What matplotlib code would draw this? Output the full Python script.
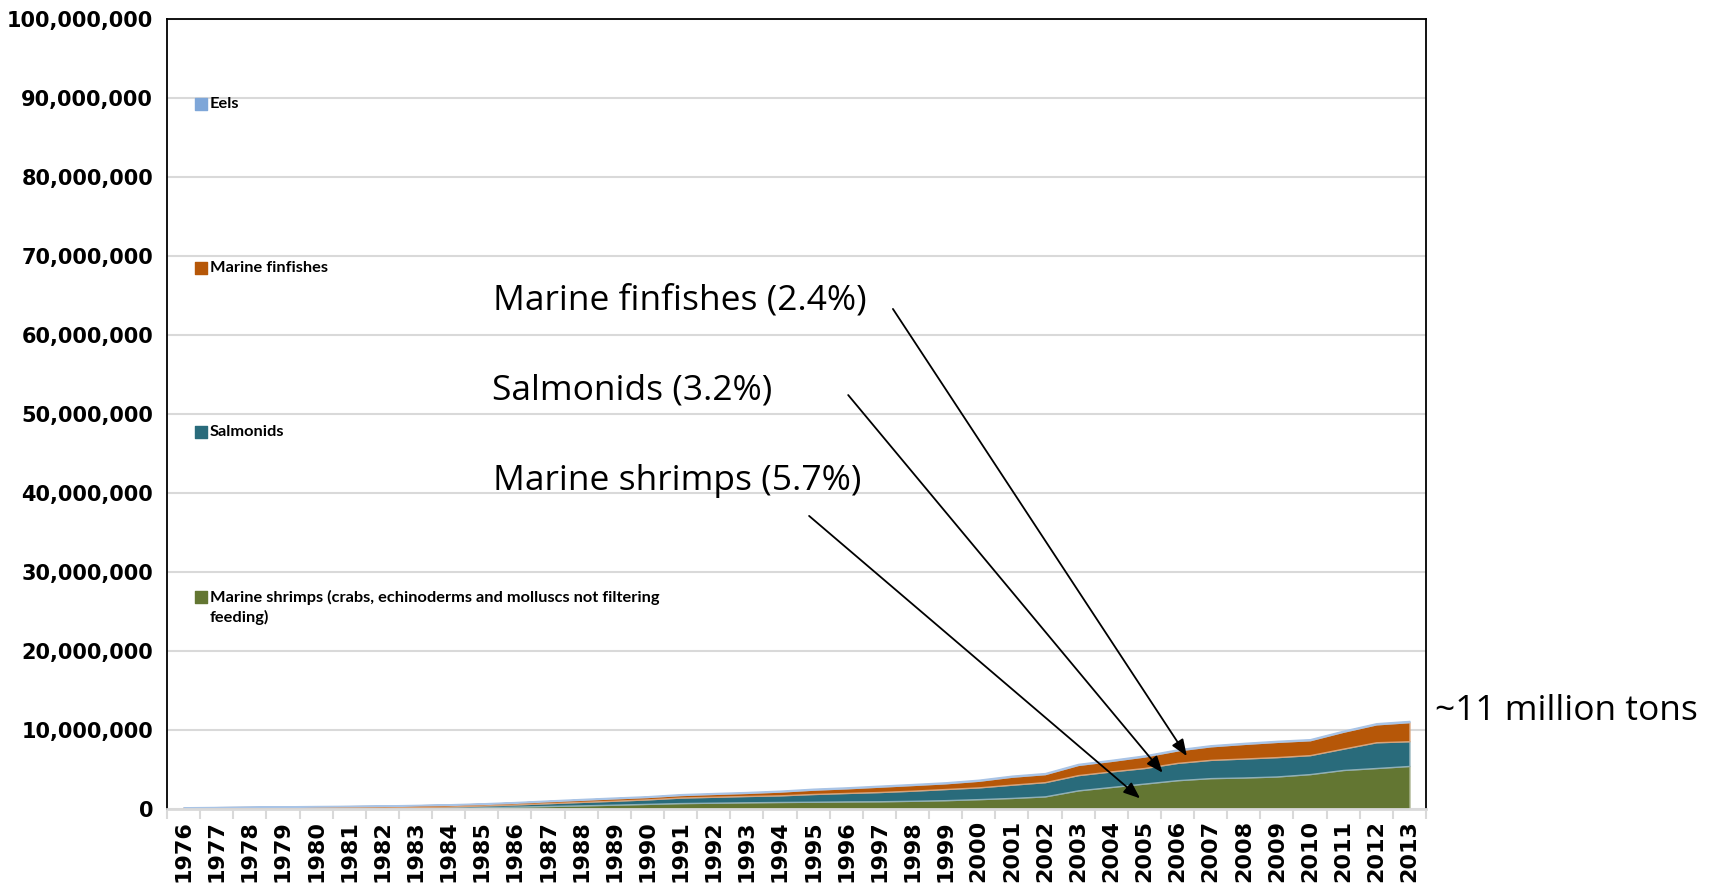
import numpy as np
import matplotlib.pyplot as plt
from matplotlib.ticker import FuncFormatter, MultipleLocator

# Aquaculture production by group, million tonnes, 1976-2013
years = list(range(1976, 2014))
shrimps_mt = [0.05, 0.06, 0.07, 0.08, 0.09, 0.10, 0.11, 0.13, 0.16, 0.22,
              0.30, 0.38, 0.46, 0.55, 0.65, 0.75, 0.80, 0.85, 0.89, 0.92,
              0.96, 0.98, 1.04, 1.12, 1.25, 1.40, 1.60, 2.36, 2.79, 3.22,
              3.65, 3.91, 3.99, 4.12, 4.42, 4.94, 5.19, 5.45]
salmonids_mt = [0.04, 0.05, 0.06, 0.07, 0.08, 0.09, 0.10, 0.12, 0.16, 0.23,
                0.28, 0.36, 0.44, 0.50, 0.57, 0.70, 0.75, 0.80, 0.84, 0.98,
                1.07, 1.17, 1.28, 1.41, 1.49, 1.68, 1.80, 1.93, 1.97, 1.97,
                2.19, 2.31, 2.40, 2.45, 2.40, 2.70, 3.26, 3.13]
finfishes_mt = [0.10, 0.12, 0.13, 0.15, 0.17, 0.17, 0.19, 0.22, 0.22, 0.20,
                0.22, 0.25, 0.27, 0.30, 0.30, 0.32, 0.36, 0.39, 0.48, 0.55,
                0.59, 0.68, 0.72, 0.73, 0.84, 1.01, 1.02, 1.29, 1.33, 1.46,
                1.58, 1.72, 1.85, 1.93, 1.89, 2.14, 2.27, 2.42]
eels_mt = [0.03, 0.03, 0.04, 0.04, 0.04, 0.05, 0.05, 0.05, 0.06, 0.07,
           0.08, 0.09, 0.10, 0.10, 0.10, 0.11, 0.11, 0.11, 0.11, 0.12,
           0.12, 0.12, 0.12, 0.12, 0.13, 0.13, 0.13, 0.13, 0.13, 0.13,
           0.13, 0.13, 0.13, 0.13, 0.13, 0.13, 0.14, 0.15]

series = [
    ("Marine shrimps (crabs, echinoderms and molluscs not filtering\nfeeding)", shrimps_mt, "#637632", "#a3ad85"),
    ("Salmonids", salmonids_mt, "#296b7b", "#8fb0b8"),
    ("Marine finfishes", finfishes_mt, "#b65708", "#d9a278"),
    ("Eels", eels_mt, "#7ea6d8", "#a9c4e6"),
]

notes = ["Marine finfishes (2.4%)", "Salmonids (3.2%)", "Marine shrimps (5.7%)"]

fig = plt.figure(figsize=(17.12, 8.83), dpi=100)
ax = fig.add_axes([167 / 1712, 74 / 883, 1259 / 1712, 790 / 883])

x = np.arange(len(years))
base = np.zeros(len(years))
for name, vals, color, edge in series:
    top = base + np.array(vals) * 1e6
    ax.fill_between(x, base, top, facecolor=color, edgecolor=edge, linewidth=1.0, zorder=2)
    base = top

ax.set_xlim(-0.5, len(years) - 0.5)
ax.set_ylim(0, 100e6)
ax.yaxis.set_major_locator(MultipleLocator(10e6))
ax.yaxis.set_major_formatter(FuncFormatter(lambda v, p: f"{int(v):,}"))
ax.grid(axis="y", color="#d9d9d9", linewidth=1.5, zorder=0)

ax.set_xticks(x)
ax.set_xticklabels([str(y) for y in years], rotation=90)
ax.set_xticks(np.arange(len(years) + 1) - 0.5, minor=True)
ax.tick_params(axis="x", which="major", length=0, pad=8)
ax.tick_params(axis="x", which="minor", length=7, width=1.5, color="#d9d9d9")
ax.tick_params(axis="y", length=0, pad=10)
for lab in ax.get_xticklabels():
    lab.set_fontfamily("DejaVu Sans")
    lab.set_fontweight("bold")
    lab.set_fontsize(16)
for lab in ax.get_yticklabels():
    lab.set_fontfamily("DejaVu Sans")
    lab.set_fontweight("bold")
    lab.set_fontsize(15)

for side in ["left", "right", "top"]:
    ax.spines[side].set_color("black")
    ax.spines[side].set_linewidth(1.3)
ax.spines["bottom"].set_color("#d9d9d9")
ax.spines["bottom"].set_linewidth(2)

# legend drawn inside the plot, top entry first
leg_y = [0.893, 0.685, 0.477, 0.268]
line_step = 0.026
for (name, vals, color, edge), ly in zip(series[::-1], leg_y):
    ax.scatter([0.027], [ly], marker="s", s=70, color=color, transform=ax.transAxes, zorder=5, clip_on=False)
    for k, line in enumerate(name.split("\n")):
        ax.text(0.034, ly - k * line_step, line, transform=ax.transAxes, va="center",
                fontfamily="Lato", fontweight="bold", fontsize=11.8, zorder=5)

# callout arrows
note_pos = [(9.34, 63.2e6), (9.31, 51.8e6), (9.34, 40.4e6)]
arrow_from = [(21.41, 63.3e6), (20.06, 52.4e6), (18.88, 37.1e6)]
arrow_to = [(30.28, 6.7e6), (29.55, 4.6e6), (28.87, 1.35e6)]
for txt, pos, a, b in zip(notes, note_pos, arrow_from, arrow_to):
    ax.text(pos[0], pos[1], txt, fontfamily="Open Sans", fontsize=25.5, va="baseline", ha="left", zorder=6)
    ax.annotate("", xy=b, xytext=a,
                arrowprops=dict(arrowstyle="-|>,head_length=1.0,head_width=0.4", color="black",
                                lw=1.3, shrinkA=0, shrinkB=0), zorder=6)

fig.text(1435 / 1712, 1 - 720 / 883, "~11 million tons", fontfamily="Open Sans", fontsize=25.5,
         va="baseline", ha="left")

fig.savefig("out.png", dpi=100)
